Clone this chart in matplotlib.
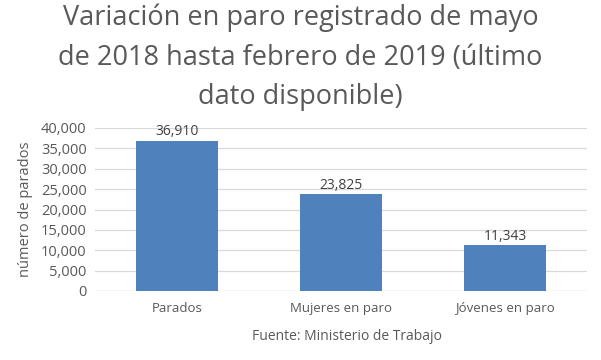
import matplotlib.pyplot as plt
from matplotlib.ticker import FuncFormatter

categorias = ['Parados', 'Mujeres en paro', 'Jóvenes en paro']
valores = [36910, 23825, 11343]
titulo = 'Variación en paro registrado de mayo\nde 2018 hasta febrero de 2019 (último\ndato disponible)'

plt.rcParams['font.family'] = ['Open Sans', 'DejaVu Sans']
gris = '#595959'

fig = plt.figure(figsize=(6.01, 3.60), dpi=100)
ax = fig.add_axes([95 / 601, 69 / 360, 492 / 601, 163 / 360])

x = range(len(categorias))
barras = ax.bar(x, valores, width=0.5, color='#4f81bd', zorder=3)
for b, v in zip(barras, valores):
    ax.text(b.get_x() + b.get_width() / 2, v + 300, f'{v:,}', ha='center', va='bottom',
            fontsize=10, color='#404040')

ax.set_xlim(-0.5, 2.5)
ax.set_ylim(0, 40000)
ax.set_yticks(range(0, 40001, 5000))
ax.yaxis.set_major_formatter(FuncFormatter(lambda v, p: f'{int(v):,}'))
ax.set_xticks(list(x))
ax.set_xticklabels(categorias)
ax.tick_params(axis='both', length=0, labelsize=9.5, colors=gris)
ax.tick_params(axis='y', labelsize=10.5, pad=6)
ax.tick_params(axis='x', pad=8)
ax.grid(axis='y', color='#d9d9d9', linewidth=0.9, zorder=0)
for s in ax.spines.values():
    s.set_visible(False)
ax.axhline(0, color='#d9d9d9', linewidth=0.9, zorder=2)

ax.set_ylabel('número de parados', fontsize=10.5, color=gris, labelpad=6)

fig.text(347 / 601, 1 - 336 / 360, 'Fuente: Ministerio de Trabajo', ha='center', va='center',
         fontsize=10, color=gris)
fig.text(0.5, 0.99, titulo, ha='center', va='top', fontsize=19.5, color=gris, linespacing=1.55)

fig.savefig('out.png', dpi=100, facecolor='white')
